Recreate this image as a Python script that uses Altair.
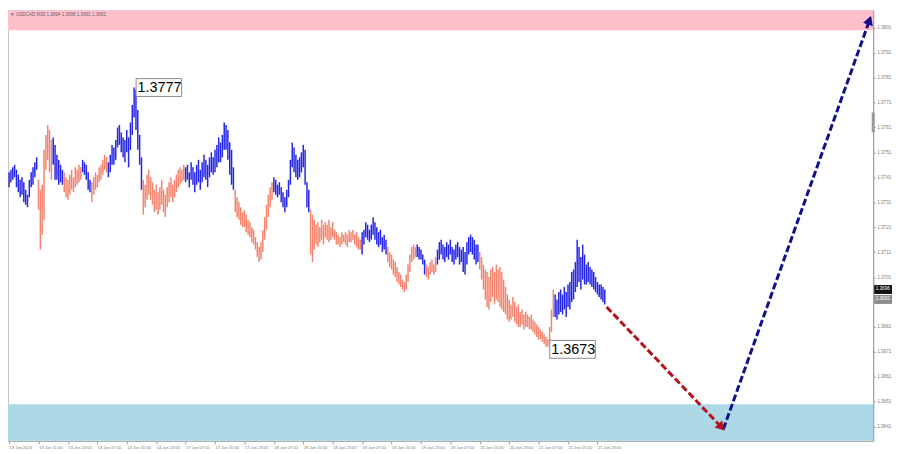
import altair as alt
import pandas as pd

# ---------------- data ----------------
bar_high = [
    1.3743,1.3744,1.3745,1.3746,1.3744,1.3742,1.3740,1.3741,1.3739,1.3736,1.3734,1.3740,1.3743,1.3745,1.3747,1.3749,
    1.3740,1.3736,1.3738,1.3752,1.3758,1.3762,1.3760,1.3756,
    1.3757,1.3754,1.3750,1.3748,1.3746,1.3744,
    1.3743,1.3741,1.3740,1.3742,1.3744,1.3741,1.3745,1.3744,1.3746,1.3745,
    1.3748,1.3747,1.3746,1.3743,1.3740,
    1.3739,1.3741,1.3743,1.3742,1.3745,1.3746,1.3748,1.3750,1.3749,
    1.3747,1.3750,1.3754,1.3753,1.3756,1.3761,1.3762,1.3759,1.3757,1.3756,1.3760,1.3757,1.3763,1.3770,1.3777,1.3776,1.3768,1.3758,1.3749,
    1.3740,1.3738,1.3742,1.3744,1.3741,1.3739,1.3736,1.3738,1.3735,1.3737,1.3740,1.3736,1.3734,1.3737,1.3739,1.3741,1.3738,1.3740,1.3742,1.3744,1.3745,1.3744,1.3746,
    1.3745,1.3746,1.3743,1.3747,1.3745,1.3743,1.3746,1.3748,1.3744,1.3747,1.3750,1.3748,1.3746,1.3749,1.3751,1.3749,1.3752,1.3754,1.3757,1.3755,1.3758,1.3763,1.3762,1.3760,1.3755,1.3752,1.3745,
    1.3736,1.3733,1.3731,1.3729,1.3727,1.3728,1.3726,1.3724,1.3723,1.3721,1.3720,1.3717,1.3715,1.3713,1.3715,1.3720,1.3725,1.3730,1.3734,1.3737,1.3739,
    1.3741,1.3740,1.3738,1.3739,1.3737,1.3735,1.3733,1.3736,1.3740,1.3748,1.3755,1.3753,1.3750,1.3748,1.3749,1.3751,1.3754,1.3752,1.3739,1.3736,
    1.3728,1.3726,1.3724,1.3722,1.3723,1.3721,1.3724,1.3722,1.3723,1.3722,1.3724,1.3721,1.3723,1.3720,1.3719,1.3718,1.3717,1.3719,1.3718,1.3719,1.3718,1.3720,1.3719,1.3720,1.3718,1.3719,1.3717,1.3716,
    1.3719,1.3720,1.3723,1.3722,1.3720,1.3722,1.3725,1.3723,1.3721,1.3719,1.3720,1.3717,1.3718,1.3716,
    1.3713,1.3711,1.3710,1.3708,1.3707,1.3705,1.3703,1.3702,1.3700,1.3699,1.3702,1.3706,1.3710,1.3713,1.3714,1.3713,
    1.3714,1.3713,1.3712,1.3710,1.3708,
    1.3706,1.3705,1.3707,1.3708,1.3706,1.3709,
    1.3712,1.3715,1.3716,1.3714,1.3713,1.3715,1.3714,1.3716,1.3713,1.3712,1.3714,1.3715,1.3713,1.3712,1.3713,1.3711,1.3715,1.3717,1.3718,1.3717,1.3716,1.3714,1.3714,
    1.3711,1.3709,1.3706,1.3704,1.3703,1.3701,1.3704,1.3705,1.3703,1.3706,1.3704,1.3705,1.3703,1.3700,1.3697,1.3694,1.3692,1.3690,1.3693,1.3691,1.3689,1.3690,
    1.3687,1.3688,1.3686,1.3687,1.3686,1.3685,1.3686,1.3684,1.3683,1.3682,1.3681,1.3680,1.3679,1.3678,1.3677,1.3676,
    1.3681,1.3688,1.3696,
    1.3694,1.3692,1.3695,1.3696,1.3694,1.3697,1.3695,1.3698,1.3699,1.3703,1.3704,1.3707,1.3716,1.3713,1.3709,1.3714,1.3710,1.3706,1.3707,1.3705,1.3704,1.3703,1.3701,1.3699,1.3698,1.3698,1.3697,1.3696,
]
bar_low = [
    1.3737,1.3739,1.3740,1.3741,1.3737,1.3735,1.3733,1.3734,1.3731,1.3730,1.3729,1.3733,1.3737,1.3738,1.3741,1.3744,
    1.3728,1.3712,1.3718,1.3724,1.3744,1.3748,1.3743,1.3740,
    1.3746,1.3740,1.3740,1.3738,1.3739,1.3738,
    1.3735,1.3733,1.3732,1.3734,1.3736,1.3735,1.3737,1.3738,1.3739,1.3740,
    1.3743,1.3742,1.3740,1.3736,1.3735,
    1.3731,1.3734,1.3736,1.3737,1.3739,1.3740,1.3742,1.3744,1.3743,
    1.3741,1.3743,1.3746,1.3746,1.3748,1.3753,1.3754,1.3751,1.3749,1.3747,1.3751,1.3745,1.3752,1.3758,1.3765,1.3760,1.3752,1.3746,1.3736,
    1.3726,1.3729,1.3732,1.3734,1.3732,1.3730,1.3727,1.3728,1.3726,1.3728,1.3730,1.3727,1.3725,1.3729,1.3731,1.3733,1.3731,1.3733,1.3735,1.3737,1.3738,1.3739,1.3740,
    1.3739,1.3740,1.3737,1.3740,1.3738,1.3735,1.3738,1.3739,1.3736,1.3739,1.3741,1.3740,1.3737,1.3741,1.3743,1.3742,1.3743,1.3745,1.3747,1.3747,1.3749,1.3752,1.3752,1.3748,1.3742,1.3738,1.3736,
    1.3727,1.3725,1.3724,1.3722,1.3721,1.3721,1.3719,1.3718,1.3717,1.3715,1.3714,1.3712,1.3709,1.3707,1.3708,1.3711,1.3716,1.3720,1.3725,1.3729,1.3732,
    1.3735,1.3734,1.3733,1.3734,1.3731,1.3729,1.3727,1.3729,1.3733,1.3738,1.3745,1.3743,1.3741,1.3740,1.3741,1.3743,1.3745,1.3738,1.3729,1.3727,
    1.3710,1.3707,1.3712,1.3714,1.3713,1.3715,1.3716,1.3714,1.3717,1.3716,1.3715,1.3716,1.3717,1.3716,1.3714,1.3714,1.3713,1.3714,1.3715,1.3714,1.3713,1.3715,1.3715,1.3716,1.3714,1.3713,1.3712,1.3712,
    1.3710,1.3714,1.3717,1.3716,1.3715,1.3716,1.3718,1.3716,1.3714,1.3713,1.3714,1.3711,1.3712,1.3710,
    1.3707,1.3705,1.3704,1.3702,1.3701,1.3699,1.3698,1.3697,1.3696,1.3695,1.3696,1.3699,1.3703,1.3707,1.3708,1.3709,
    1.3709,1.3708,1.3708,1.3706,1.3702,
    1.3701,1.3700,1.3702,1.3703,1.3702,1.3703,
    1.3706,1.3708,1.3710,1.3708,1.3707,1.3709,1.3708,1.3710,1.3707,1.3706,1.3708,1.3709,1.3706,1.3707,1.3703,1.3702,1.3706,1.3710,1.3711,1.3710,1.3708,1.3706,1.3707,
    1.3704,1.3700,1.3696,1.3692,1.3689,1.3688,1.3691,1.3693,1.3690,1.3692,1.3691,1.3689,1.3688,1.3687,1.3686,1.3684,1.3683,1.3684,1.3685,1.3683,1.3682,1.3681,
    1.3681,1.3682,1.3680,1.3681,1.3681,1.3680,1.3680,1.3679,1.3678,1.3677,1.3676,1.3676,1.3675,1.3674,1.3673,1.3673,
    1.3674,1.3679,1.3685,
    1.3685,1.3684,1.3686,1.3687,1.3686,1.3688,1.3685,1.3689,1.3688,1.3691,1.3692,1.3695,1.3697,1.3699,1.3696,1.3700,1.3698,1.3698,1.3699,1.3698,1.3697,1.3696,1.3695,1.3694,1.3693,1.3692,1.3691,1.3690,
]
# number of consecutive bars in each coloured wave, alternating up / down
wave_lengths = [16, 8, 6, 10, 5, 9, 19, 23, 27, 21, 20, 28, 14, 16, 5, 6, 23, 41, 28]
wave_dirs = ["up", "down"] * 9 + ["up"]

x_tick_labels = [
    "13 Jun 2024", "13 Jun 15:00", "13 Jun 23:00", "14 Jun 07:00", "14 Jun 15:00",
    "14 Jun 23:00", "17 Jun 07:00", "17 Jun 15:00", "17 Jun 23:00", "18 Jun 07:00",
    "18 Jun 15:00", "18 Jun 23:00", "19 Jun 07:00", "19 Jun 15:00", "19 Jun 23:00",
    "20 Jun 07:00", "20 Jun 15:00", "20 Jun 23:00", "21 Jun 07:00", "21 Jun 15:00",
    "21 Jun 23:00",
]
bars_per_label = 16
# 1.3691 is hidden behind the price tags in the reference
y_ticks = [1.3641, 1.3651, 1.3661, 1.3671, 1.3681, 1.3701, 1.3711, 1.3721,
           1.3731, 1.3741, 1.3751, 1.3761, 1.3771, 1.3781, 1.3791, 1.3801]

extreme_bars = [68, 293]
extreme_anchor = [1.3777, 1.3672]
extreme_labels = ["1.3777", "1.3673"]

forecast_bars = [325, 388.5, 468.5]
forecast_prices = [1.3689, 1.3640, 1.3805]

zone_lo = [1.3800, 1.3630]
zone_hi = [1.3815, 1.3650]
zone_kind = ["resistance", "support"]

header_text = "USDCAD,M30  1.3694 1.3698 1.3691 1.3692"
price_tags = [1.3696, 1.3692]
price_tag_kind = ["bid", "last"]

# ---------------- styling ----------------
BLUE = "#2626E6"
SALMON = "#F4846F"
RED = "#B5121B"
NAVY = "#10108A"
PINK = "#FFC0CB"
LIGHTBLUE = "#ADD8E6"
X_DOMAIN = [-0.6, 470]
Y_DOMAIN = [1.36353, 1.38080]
W, H = 874, 435

xs = alt.Scale(domain=X_DOMAIN, nice=False, zero=False)
ys = alt.Scale(domain=Y_DOMAIN, nice=False, zero=False)

dirs = []
for n, d in zip(wave_lengths, wave_dirs):
    dirs += [d] * n
bars_df = pd.DataFrame({"i": range(len(bar_high)), "high": bar_high, "low": bar_low, "dir": dirs})

label_js = "[" + ",".join("'%s'" % s for s in x_tick_labels) + "]"
x_axis = alt.Axis(
    values=[k * bars_per_label for k in range(len(x_tick_labels))], tickCount=60,
    labelExpr=label_js + "[round(datum.value/%d)]" % bars_per_label,
    labelAlign="left", labelFontSize=4.1, labelColor="#777", labelFont="Liberation Sans",
    labelPadding=1.5, tickSize=3, tickColor="#999", domainColor="#aaa", grid=False,
    title=None, labelOverlap=False, labelFlush=False,
)
y_axis = alt.Axis(
    orient="right", values=y_ticks, tickCount=60, format=".4f", labelFontSize=4.7, labelColor="#777",
    labelFont="Liberation Sans", labelPadding=1.5, tickSize=2, tickColor="#999",
    domainColor="#999", grid=False, title=None, labelOverlap=False, labelBound=False,
)

zones_df = pd.DataFrame({"lo": zone_lo, "hi": zone_hi, "kind": zone_kind})
zones = alt.Chart(zones_df).mark_rect(clip=True).encode(
    x=alt.datum(X_DOMAIN[0], scale=xs),
    x2=alt.datum(X_DOMAIN[1]),
    y=alt.Y("lo:Q", scale=ys, axis=y_axis),
    y2="hi:Q",
    color=alt.Color("kind:N", scale=alt.Scale(domain=zone_kind, range=[PINK, LIGHTBLUE]), legend=None),
)

bars = alt.Chart(bars_df).mark_rule(strokeWidth=1.5).encode(
    x=alt.X("i:Q", scale=xs, axis=x_axis),
    y=alt.Y("low:Q", scale=ys, axis=y_axis),
    y2="high:Q",
    color=alt.Color("dir:N", scale=alt.Scale(domain=["up", "down"], range=[BLUE, SALMON]), legend=None),
)

fc_df = pd.DataFrame({"b": forecast_bars, "p": forecast_prices})
red_line = alt.Chart(fc_df.iloc[0:2]).mark_line(color=RED, strokeWidth=3, strokeDash=[7, 3]).encode(
    x=alt.X("b:Q", scale=xs, axis=x_axis), y=alt.Y("p:Q", scale=ys, axis=y_axis))
blue_line = alt.Chart(fc_df.iloc[1:3]).mark_line(color=NAVY, strokeWidth=3, strokeDash=[7, 3]).encode(
    x=alt.X("b:Q", scale=xs, axis=x_axis), y=alt.Y("p:Q", scale=ys, axis=y_axis))
red_head = alt.Chart(fc_df.iloc[1:2]).mark_point(
    shape="triangle", filled=True, size=110, color=RED, opacity=1, angle=136, xOffset=-3, yOffset=-3
).encode(x=alt.X("b:Q", scale=xs, axis=x_axis), y=alt.Y("p:Q", scale=ys, axis=y_axis))
blue_head = alt.Chart(fc_df.iloc[2:3]).mark_point(
    shape="triangle", filled=True, size=110, color=NAVY, opacity=1, angle=20, xOffset=-1.5, yOffset=4
).encode(x=alt.X("b:Q", scale=xs, axis=x_axis), y=alt.Y("p:Q", scale=ys, axis=y_axis))

ext_df = pd.DataFrame({"b": extreme_bars, "p": extreme_anchor, "t": extreme_labels})
ext_box = alt.Chart(ext_df).mark_rect(
    fill="white", stroke="#8a8a8a", strokeWidth=1, xOffset=2, x2Offset=48, yOffset=-9, y2Offset=9
).encode(x=alt.X("b:Q", scale=xs, axis=x_axis), x2="b:Q", y=alt.Y("p:Q", scale=ys, axis=y_axis), y2="p:Q")
ext_text = alt.Chart(ext_df).mark_text(
    align="left", baseline="middle", dx=3.5, dy=0.5, fontSize=14.5, font="Liberation Sans", color="black"
).encode(x=alt.X("b:Q", scale=xs, axis=x_axis), y=alt.Y("p:Q", scale=ys, axis=y_axis), text="t:N")

hdr_df = pd.DataFrame({"t": [header_text]})
header = alt.Chart(hdr_df).mark_text(
    align="left", baseline="top", dx=8, dy=2, fontSize=4.6, font="Liberation Sans", color="#666"
).encode(x=alt.datum(X_DOMAIN[0], scale=xs), y=alt.datum(Y_DOMAIN[1], scale=ys), text="t:N")
hdr_icon = alt.Chart(hdr_df).mark_text(
    align="left", baseline="top", dx=2, dy=2, fontSize=4.5, color="#666", text="▼"
).encode(x=alt.datum(X_DOMAIN[0], scale=xs), y=alt.datum(Y_DOMAIN[1], scale=ys))

tag_df = pd.DataFrame({"p": price_tags, "k": price_tag_kind, "t": ["%.4f" % v for v in price_tags]})
tag_box = alt.Chart(tag_df).mark_rect(xOffset=1, x2Offset=19, yOffset=-4.5, y2Offset=4.5).encode(
    x=alt.datum(X_DOMAIN[1], scale=xs), x2=alt.datum(X_DOMAIN[1]),
    y=alt.Y("p:Q", scale=ys, axis=y_axis), y2="p:Q",
    color=alt.Color("k:N", scale=alt.Scale(domain=price_tag_kind, range=["#111111", "#8c8c8c"]), legend=None),
)
tag_text = alt.Chart(tag_df).mark_text(
    align="left", baseline="middle", dx=2.5, fontSize=4.7, font="Liberation Sans", color="white"
).encode(x=alt.datum(X_DOMAIN[1], scale=xs), y=alt.Y("p:Q", scale=ys, axis=y_axis), text="t:N")

scroll_mark = alt.Chart(hdr_df).mark_rule(color="#9a9a9a", strokeWidth=3).encode(
    x=alt.datum(X_DOMAIN[1], scale=xs), y=alt.datum(1.3767, scale=ys), y2=alt.datum(1.3759))

chart = alt.layer(
    zones, bars, red_line, blue_line, red_head, blue_head, ext_box, ext_text,
    header, hdr_icon, tag_box, tag_text, scroll_mark,
).resolve_scale(color="independent").properties(
    width=W, height=H, padding=0, background="white"
).configure_view(stroke="#c4c4c4", strokeWidth=1).configure_axis(labelOverlap=False)

chart.save("out.html", embed_options={"renderer": "svg", "actions": False})
